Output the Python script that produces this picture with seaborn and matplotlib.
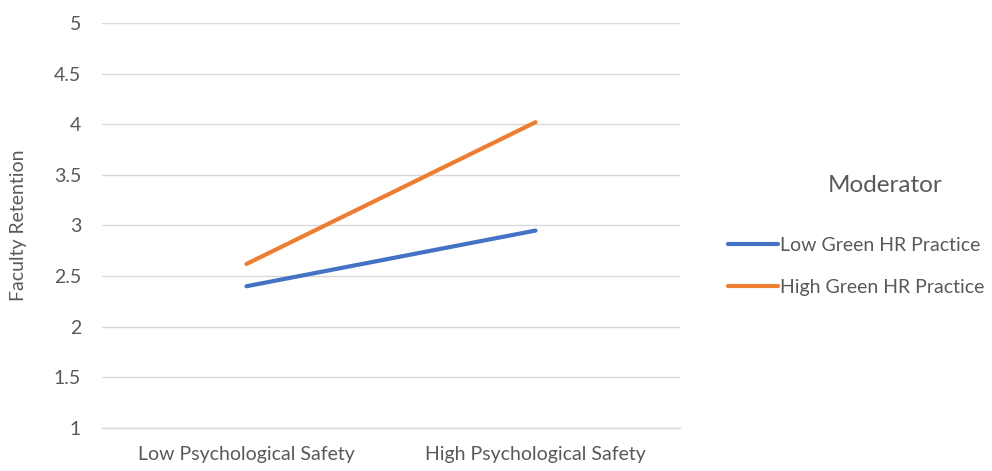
import matplotlib
matplotlib.use("Agg")
import matplotlib.pyplot as plt
import seaborn as sns
import pandas as pd

# Simple slopes: faculty retention by psychological safety, moderated by green HR practice
safety_levels = ["Low Psychological Safety", "High Psychological Safety"]
low_green_hr = [2.40, 2.95]
high_green_hr = [2.62, 4.02]
series_names = ["Low Green HR Practice", "High Green HR Practice"]
legend_title = "Moderator"
y_ticks = [1, 1.5, 2, 2.5, 3, 3.5, 4, 4.5, 5]

df = pd.DataFrame({
    "Safety": safety_levels * 2,
    "Retention": low_green_hr + high_green_hr,
    "Moderator": [series_names[0]] * 2 + [series_names[1]] * 2,
})

sns.set_theme(style="white")
plt.rcParams["font.family"] = ["Lato", "DejaVu Sans"]

text_color = "#595959"
grid_color = "#D9D9D9"

fig = plt.figure(figsize=(9.92, 4.71), dpi=100)
ax = fig.add_axes([0.1028, 0.0913, 0.5827, 0.8599])

sns.lineplot(
    data=df, x="Safety", y="Retention", hue="Moderator",
    hue_order=series_names,
    palette=["#4472C4", "#ED7D31"],
    linewidth=3, ax=ax, sort=False, legend=True,
)

ax.set_xlim(-0.5, 1.5)
ax.set_ylim(1, 5)
ax.set_yticks(y_ticks)
ax.set_yticklabels([f"{t:g}" for t in y_ticks])
ax.yaxis.grid(True, color=grid_color, linewidth=1)
ax.set_axisbelow(True)
for side in ["top", "right", "left"]:
    ax.spines[side].set_visible(False)
ax.spines["bottom"].set_color(grid_color)
ax.spines["bottom"].set_linewidth(1)
ax.tick_params(axis="both", length=0, labelsize=14, colors=text_color)
ax.tick_params(axis="y", pad=15)
ax.tick_params(axis="x", pad=13)
ax.set_xlabel("")
ax.set_ylabel("Faculty Retention", fontsize=14, color=text_color, labelpad=19)

# Legend entries, with the title placed separately above them
handles, labels = ax.get_legend_handles_labels()
ax.legend_.remove()
leg = fig.legend(
    handles, labels,
    loc="center", bbox_to_anchor=(0.863, 0.434),
    frameon=False, fontsize=14,
    handlelength=2.6, handletextpad=0.1, labelspacing=1.3,
)
for t in leg.get_texts():
    t.set_color(text_color)
fig.text(0.892, 0.607, legend_title, ha="center", va="center",
         fontsize=17.5, color=text_color)

fig.savefig("out.png", dpi=100)
